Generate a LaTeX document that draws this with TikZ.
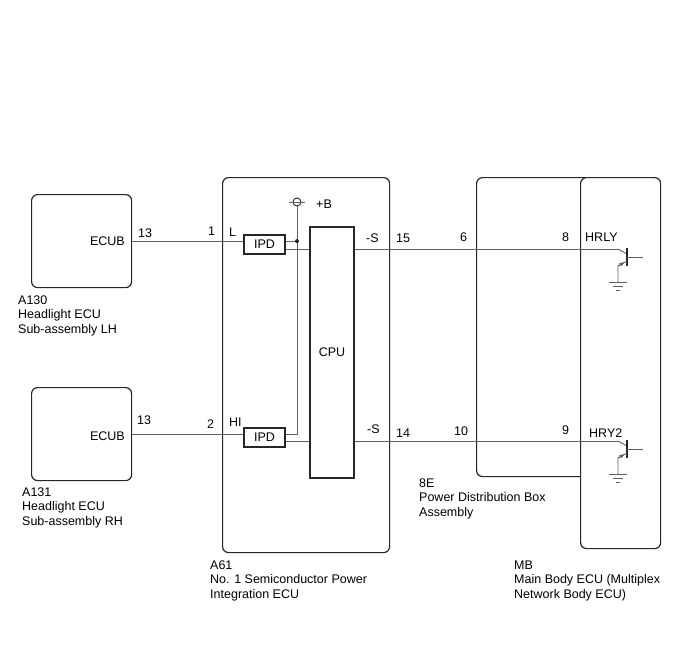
\documentclass[tikz,border=0pt]{standalone}
\usepackage{fontspec}
\setmainfont{Liberation Sans}
\usetikzlibrary{arrows.meta}

\begin{document}
\begin{tikzpicture}[x=1pt,y=-1pt,
  every node/.style={font=\fontsize{12.5}{14.5}\selectfont, inner sep=0pt},
  unit/.style={draw=black!85, line width=1.2pt, rounded corners=6pt, anchor=north west},
  part/.style={draw=black!85, line width=1.2pt},
  wire/.style={draw=black!62, line width=0.9pt},
  pin/.style={anchor=west, text height=9pt, text depth=0pt},
  lbl/.style={align=left, anchor=north west}]
  \useasboundingbox (0,0) rectangle (688,658);

  % connectors (units)
  \node[unit, minimum width=100pt, minimum height=93pt] (A130) at (31,194) {};
  \node[unit, minimum width=100pt, minimum height=93pt] (A131) at (31,387) {};
  \node[unit, minimum width=167pt, minimum height=375pt] (A61) at (222,177) {};
  \node[unit, minimum width=120pt, minimum height=299pt] (E8) at (476,177) {};
  \node[unit, fill=white, minimum width=80pt, minimum height=371pt] (MB) at (580,177) {};

  % inside A61
  \node[part, minimum width=41pt, minimum height=19pt] (ipd1) at (264.5,244.5) {IPD};
  \node[part, minimum width=41pt, minimum height=19pt] (ipd2) at (264.5,437.5) {IPD};
  \node[part, minimum width=44pt, minimum height=251pt] (cpu) at (332,352.5) {CPU};
  \node[circle, draw=black!85, line width=0.9pt, minimum size=8pt] (pB) at (297,202) {};
  \coordinate (jn) at (pB |- A130.east);
  \coordinate (q1) at (618,249);
  \coordinate (q2) at (618,441);

  % wires
  \draw[wire] ([xshift=-4pt]pB.west) -- ([xshift=4pt]pB.east);
  \draw[wire] (A130.east) -- (A130.east -| ipd1.west);
  \draw[wire] (A131.east) -- (A131.east -| ipd2.west);
  \draw[wire] (ipd1.east |- jn) -- (jn);
  \draw[wire] (pB.south) -- (pB |- A131.east) -- (ipd2.east |- A131.east);
  \fill[black!85] (jn) circle (2pt);
  \draw[wire] (ipd1.east |- q1) -- (cpu.west |- q1);
  \draw[wire] (ipd2.east |- q2) -- (cpu.west |- q2);
  \draw[wire] (cpu.east |- q1) -- (q1);
  \draw[wire] (cpu.east |- q2) -- (q2);

  % transistors in MB
  \foreach \q in {q1,q2} {
    \draw[wire] (\q) -- ++(9,5);
    \draw[draw=black!85, line width=1.2pt] ([shift={(9,-1)}]\q) -- ++(0,18);
    \draw[wire] ([shift={(9,8)}]\q) -- ++(16,0);
    \draw[wire] ([shift={(9,12)}]\q) -- ++(-9,5) -- ++(0,16);
    \draw[wire, -{Stealth[length=5.5pt,width=4.5pt]}] ([shift={(0,17)}]\q) -- ++(6.5,-3.6);
    \draw[wire] ([shift={(-9,33)}]\q) -- ++(18,0);
    \draw[wire] ([shift={(-5,37)}]\q) -- ++(10,0);
    \draw[wire] ([shift={(-2,41)}]\q) -- ++(4,0);
  }

  % pin labels
  \node[pin, anchor=east] (ecub1) at (125,241) {ECUB};
  \node[pin, anchor=east] (ecub2) at (125,436) {ECUB};
  \node[pin] (p13a) at (138,232.5) {13};
  \node[pin] (p1) at (208,231) {1};
  \node[pin] (pL) at (229,232) {L};
  \node[pin] (p13b) at (137,420) {13};
  \node[pin] (p2) at (207,424) {2};
  \node[pin] (pHI) at (229,422) {HI};
  \node[pin] (tB) at (316,204) {+B};
  \node[pin] (s1) at (366,238) {-S};
  \node[pin] (s2) at (367,429) {-S};
  \node[pin] (p15) at (396,238) {15};
  \node[pin] (p14) at (396,433) {14};
  \node[pin] (p6) at (460,237) {6};
  \node[pin] (p10) at (454,431) {10};
  \node[pin] (p8) at (562,237) {8};
  \node[pin] (p9) at (562,430) {9};
  \node[pin] (hrly) at (585,237) {HRLY};
  \node[pin] (hry2) at (589,433) {HRY2};

  % part names
  \node[lbl] (A130lbl) at (18,295.5) {A130\\Headlight ECU\\Sub-assembly LH};
  \node[lbl] (A131lbl) at (22,487.5) {A131\\Headlight ECU\\Sub-assembly RH};
  \node[lbl] (A61lbl) at (210,560.5) {A61\\No. 1 Semiconductor Power\\Integration ECU};
  \node[lbl] (E8lbl) at (419,478.5) {8E\\Power Distribution Box\\Assembly};
  \node[lbl] (MBlbl) at (514,560.5) {MB\\Main Body ECU (Multiplex\\Network Body ECU)};
\end{tikzpicture}
\end{document}
